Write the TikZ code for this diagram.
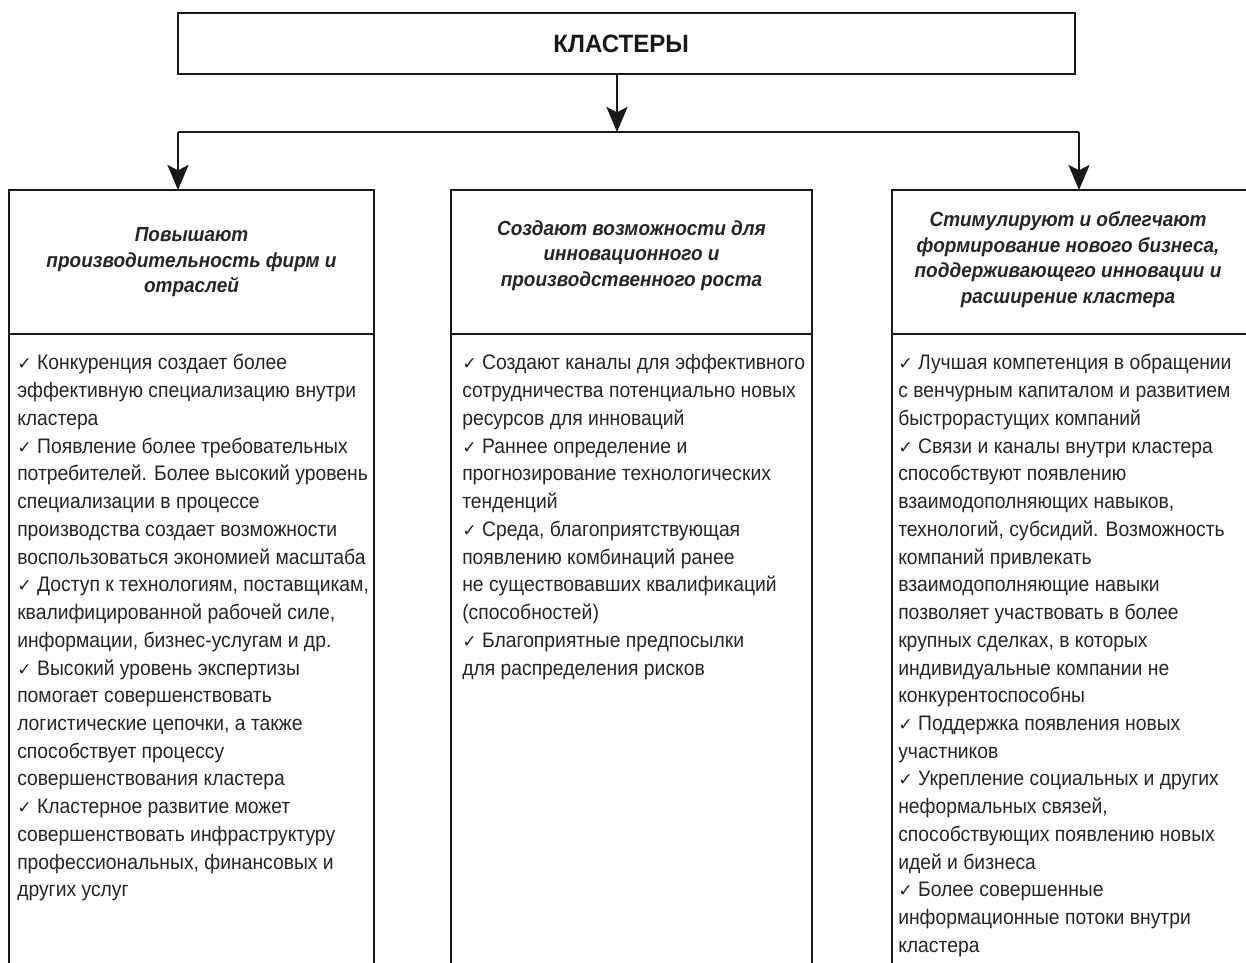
\documentclass[tikz,border=0pt]{standalone}
\usepackage{fontspec}
\setmainfont{Liberation Sans}[FakeStretch=0.92]
\newfontfamily\headf{Liberation Sans}[FakeStretch=0.93]
\newfontfamily\titlef{Liberation Sans}[FakeStretch=0.96]
\newfontfamily\symf{DejaVu Sans}
\usetikzlibrary{arrows.meta}
\newcommand{\ck}{{\symf\fontsize{13pt}{13pt}\selectfont ✓}}
\newcommand{\fr}{\rule{0pt}{14pt}}
\newcommand{\hr}{\rule{0pt}{13pt}}
\tikzset{
  frame/.style={line width=2.2pt, draw=black!90},
  colframe/.style={line width=1.9pt, draw=black!90},
  link/.style={line width=2.2pt, draw=black!90},
  arrowlink/.style={link, -{Stealth[length=18.75pt,width=15.75pt,inset=4pt]}},
  bodytext/.style={inner sep=0pt, align=left, anchor=north west, text=black!85,
    font=\fontsize{15.75pt}{20.8pt}\selectfont},
  headtext/.style={inner sep=0pt, align=center, anchor=north, text=black!85,
    font=\headf\fontsize{15.3pt}{19.2pt}\selectfont\bfseries\itshape},
}
\begin{document}
\begin{tikzpicture}[x=0.75pt, y=-0.75pt]
\useasboundingbox (0,0) rectangle (1246,963);
\clip (0,0) rectangle (1246,963);
\fill[white] (0,0) rectangle (1246,963);

% title box
\node[frame, minimum width=897*0.75pt, minimum height=61*0.75pt, inner sep=0pt,
      text=black!90, font=\titlef\fontsize{18.8pt}{20pt}\selectfont\bfseries] (title) at (626.5,43.5) {\hspace*{-8pt}КЛАСТЕРЫ};

% junctions
\coordinate (hc) at (617,132);
\coordinate (hl) at (178,132);
\coordinate (hr) at (1079,132);
\coordinate (c1top) at (178,190);
\coordinate (c3top) at (1079,190);

\draw[arrowlink] (title.south -| hc) -- (hc);
\draw[link] (hl) -- (hr);
\draw[arrowlink] (hl) -- (c1top);
\draw[arrowlink] (hr) -- (c3top);

% columns
\draw[colframe] (9,975) -- (9,190) -- (374,190) -- (374,975);
\draw[colframe] (9,334) -- (374,334);
\draw[colframe] (451,975) -- (451,190) -- (812,190) -- (812,975);
\draw[colframe] (451,334) -- (812,334);
\draw[colframe] (892,975) -- (892,190) -- (1260,190);
\draw[colframe] (892,334) -- (1260,334);

% headers
\node[headtext] (h1) at (191.5,224) {\hr Повышают\\производительность фирм и\\отраслей};
\node[headtext] (h2) at (631.5,217.7) {\hr Создают возможности для\\инновационного и\\производственного роста};
\node[headtext] (h3) at (1068,209) {\hr Стимулируют и облегчают\\формирование нового бизнеса,\\поддерживающего инновации и\\расширение кластера};

% bodies
\node[bodytext] (b1) at (17,351) {\fr\ck{} Конкуренция создает более\\
эффективную специализацию внутри\\
кластера\\
\ck{} Появление более требовательных\\
потребителей. Более высокий уровень\\
специализации в процессе\\
производства создает возможности\\
воспользоваться экономией масштаба\\
\ck{} Доступ к технологиям, поставщикам,\\
квалифицированной рабочей силе,\\
информации, бизнес-услугам и др.\\
\ck{} Высокий уровень экспертизы\\
помогает совершенствовать\\
логистические цепочки, а также\\
способствует процессу\\
совершенствования кластера\\
\ck{} Кластерное развитие может\\
совершенствовать инфраструктуру\\
профессиональных, финансовых и\\
других услуг};

\node[bodytext] (b2) at (462,351) {\fr\ck{} Создают каналы для эффективного\\
сотрудничества потенциально новых\\
ресурсов для инноваций\\
\ck{} Раннее определение и\\
прогнозирование технологических\\
тенденций\\
\ck{} Среда, благоприятствующая\\
появлению комбинаций ранее\\
не существовавших квалификаций\\
(способностей)\\
\ck{} Благоприятные предпосылки\\
для распределения рисков};

\node[bodytext] (b3) at (898,351) {\fr\ck{} Лучшая компетенция в обращении\\
с венчурным капиталом и развитием\\
быстрорастущих компаний\\
\ck{} Связи и каналы внутри кластера\\
способствуют появлению\\
взаимодополняющих навыков,\\
технологий, субсидий. Возможность\\
компаний привлекать\\
взаимодополняющие навыки\\
позволяет участвовать в более\\
крупных сделках, в которых\\
индивидуальные компании не\\
конкурентоспособны\\
\ck{} Поддержка появления новых\\
участников\\
\ck{} Укрепление социальных и других\\
неформальных связей,\\
способствующих появлению новых\\
идей и бизнеса\\
\ck{} Более совершенные\\
информационные потоки внутри\\
кластера};
\end{tikzpicture}
\end{document}
